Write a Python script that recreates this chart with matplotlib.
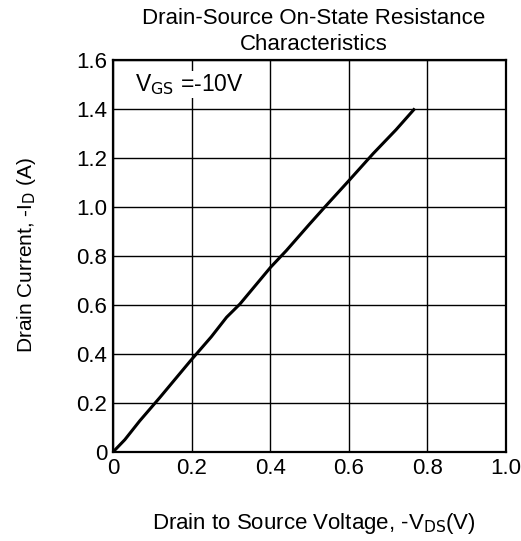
import matplotlib.pyplot as plt
import numpy as np

plt.rcParams['font.family'] = ['Liberation Sans', 'DejaVu Sans']

# curve
vds = [0.0, 0.03, 0.068, 0.119, 0.197, 0.25, 0.289, 0.323, 0.401, 0.441, 0.5, 0.543, 0.601, 0.662, 0.72, 0.768]
i_d = [0.0, 0.05, 0.127, 0.222, 0.372, 0.47, 0.55, 0.604, 0.754, 0.822, 0.93, 1.007, 1.109, 1.218, 1.315, 1.402]

xticks = [0, 0.2, 0.4, 0.6, 0.8, 1.0]
xlabels = ['0', '0.2', '0.4', '0.6', '0.8', '1.0']
yticks = [0, 0.2, 0.4, 0.6, 0.8, 1.0, 1.2, 1.4, 1.6]
ylabels = ['0', '0.2', '0.4', '0.6', '0.8', '1.0', '1.2', '1.4', '1.6']

fig = plt.figure(figsize=(5.21, 5.41), dpi=100)
ax = fig.add_axes([113/521, 1 - 452/541, 393/521, 392/541])

ax.plot(vds, i_d, color='black', lw=2.2, solid_capstyle='butt')

ax.set_xlim(0, 1.0)
ax.set_ylim(0, 1.6)
ax.set_xticks(xticks)
ax.set_xticklabels(xlabels)
ax.set_yticks(yticks)
ax.set_yticklabels(ylabels)
ax.tick_params(length=0, labelsize=16, pad=4)
ax.grid(True, color='black', lw=1)
for s in ax.spines.values():
    s.set_linewidth(1.6)

ax.text(0.055, 1.50, r'V$_{\rm GS}$ =-10V', fontsize=16.5, va='center', ha='left',
        bbox=dict(facecolor='white', edgecolor='none', pad=1))

fig.text(0.5 + 53/521, 1 - 18/541, 'Drain-Source On-State Resistance',
         ha='center', va='center', fontsize=16)
fig.text(0.5 + 53/521, 1 - 44/541, 'Characteristics',
         ha='center', va='center', fontsize=16)
fig.text(314/521, 1 - 524/541, r'Drain to Source Voltage, -V$_{\rm DS}$(V)',
         ha='center', va='center', fontsize=16)
fig.text(27/521, 1 - 255/541, r'Drain Current, -I$_{\rm D}$ (A)',
         ha='center', va='center', fontsize=15, rotation=90)

fig.savefig('out.png', dpi=100)
